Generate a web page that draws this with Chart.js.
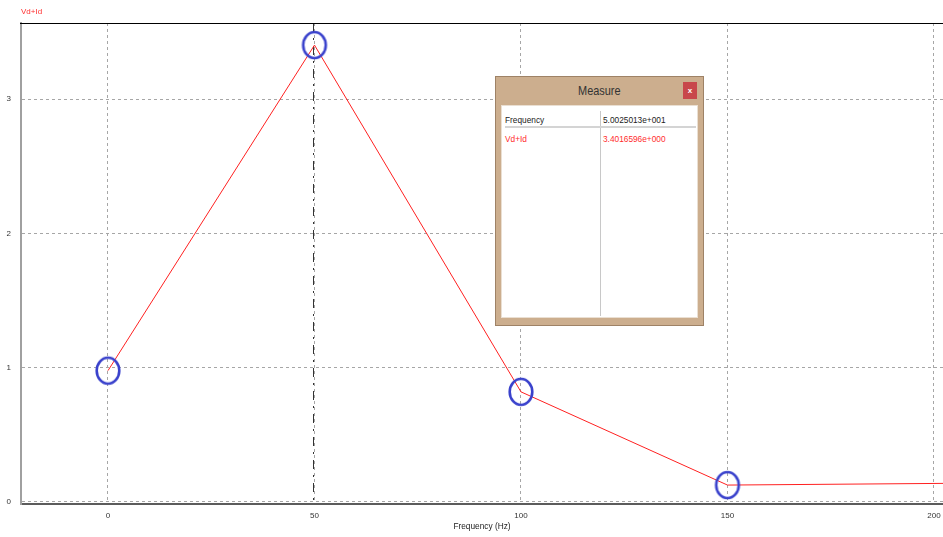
<!DOCTYPE html>
<html><head><meta charset="utf-8">
<script src="https://cdn.jsdelivr.net/npm/chart.js@4/dist/chart.umd.min.js"></script>
<style>
html,body{margin:0;padding:0;background:#fff;overflow:hidden}
#wrap{position:relative;width:943px;height:537px;font-family:"Liberation Sans",Arial,sans-serif}
canvas{display:block}
.abs{position:absolute;white-space:nowrap}
#mbox{left:495px;top:76px;width:209px;height:250px;box-sizing:border-box;background:#ccae8e;border:1px solid #9e8266}
#mtitle{left:495px;top:83px;width:209px;height:16px;line-height:16px;text-align:center;font-size:13px;color:#333}
#mtitle span{display:inline-block;transform:scaleX(0.84)}
#mclose{left:683px;top:82px;width:14px;height:17px;line-height:17px;text-align:center;background:#c8474b;color:#fff;font-size:8px;font-weight:bold}
#mpanel{left:501px;top:105px;width:197px;height:213px;box-sizing:border-box;background:#fff;border:1px solid #eadfd2}
#vsep{left:600px;top:111px;width:1px;height:205px;background:#c8c8c8}
#hsep{left:505px;top:126px;width:191px;height:2px;background:#d4d4d4}
.cell{font-size:8.3px;height:12px;line-height:12px}
</style></head><body>
<div id="wrap">
<canvas id="c" width="943" height="537"></canvas>
<div id="mbox" class="abs"></div>
<div id="mtitle" class="abs"><span>Measure</span></div>
<div id="mclose" class="abs">x</div>
<div id="mpanel" class="abs"></div>
<div id="vsep" class="abs"></div>
<div id="hsep" class="abs"></div>
<div id="r1n" class="abs cell" style="left:505px;top:114px;color:#222"></div>
<div id="r1v" class="abs cell" style="left:603px;top:114px;color:#222"></div>
<div id="r2n" class="abs cell" style="left:505px;top:133px;color:#ff2d2d"></div>
<div id="r2v" class="abs cell" style="left:603px;top:133px;color:#ff2d2d"></div>
</div>
<script>
const seriesName = "Vd+Id";
const xAxisTitle = "Frequency (Hz)";
const frequencies = [0, 50, 100, 150, 200, 250];
const vdId = [0.978, 3.402, 0.82, 0.126, 0.138, 0.15];
const markedFrequencies = [0, 50, 100, 150];
const markedValues = [0.978, 3.402, 0.82, 0.126];
const xTicks = [0, 50, 100, 150, 200];
const yTicks = [0, 1, 2, 3];
const cursorFrequency = 50.025013;
const cursorValue = 3.4016596;

function fmtExp(v){
  const s = v.toExponential(7);
  const parts = s.split('e');
  const e = parseInt(parts[1], 10);
  return parts[0] + 'e' + (e < 0 ? '-' : '+') + String(Math.abs(e)).padStart(3, '0');
}
document.getElementById('r1n').textContent = 'Frequency';
document.getElementById('r1v').textContent = fmtExp(cursorFrequency);
document.getElementById('r2n').textContent = seriesName;
document.getElementById('r2v').textContent = fmtExp(cursorValue);

function ring(){
  const c = document.createElement('canvas');
  c.width = 28; c.height = 32;
  const g = c.getContext('2d');
  g.strokeStyle = '#3a42cc'; g.lineWidth = 2.6;
  g.beginPath(); g.ellipse(14, 16, 11.3, 13, 0, 0, Math.PI*2); g.stroke();
  return c;
}
const ringImg = ring();

const fontTick = {family:'"Liberation Sans", Arial, sans-serif', size:8};

const decor = {
  id:'decor',
  beforeDatasetsDraw(chart){
    const {ctx, chartArea:a, scales} = chart;
    const x = Math.floor(scales.x.getPixelForValue(cursorFrequency)) - 0.5;
    ctx.save();
    ctx.strokeStyle = '#333'; ctx.lineWidth = 1;
    ctx.setLineDash([9,6,2,6]);
    ctx.beginPath(); ctx.moveTo(x, a.top); ctx.lineTo(x, a.bottom - 1); ctx.stroke();
    ctx.restore();
  },
  afterDraw(chart){
    const {ctx, chartArea:a} = chart;
    ctx.save();
    ctx.fillStyle = '#000';
    ctx.fillRect(a.left - 1, a.top, a.right - a.left + 1, 1);
    ctx.fillStyle = '#ff3030';
    ctx.font = '8px "Liberation Sans", Arial, sans-serif';
    ctx.textBaseline = 'middle';
    ctx.fillText(seriesName, 21, 12);
    ctx.restore();
  }
};

new Chart(document.getElementById('c'), {
  type:'line',
  data:{
    datasets:[
      {
        label:'marks',
        data: markedFrequencies.map((f,i)=>({x:f, y:markedValues[i]})),
        showLine:false,
        pointStyle: ringImg,
        pointRadius: 12,
        order: 0
      },
      {
        label: seriesName,
        data: frequencies.map((f,i)=>({x:f, y:vdId[i]})),
        borderColor:'#ff2020',
        borderWidth:1,
        pointRadius:0,
        tension:0,
        order: 1
      }
    ]
  },
  options:{
    responsive:false,
    animation:false,
    events:[],
    layout:{autoPadding:false, padding:{top:23,left:0,right:0,bottom:0}},
    plugins:{legend:{display:false}, tooltip:{enabled:false}, title:{display:false}},
    scales:{
      x:{
        type:'linear', min:-21.065, max:202.18,
        afterBuildTicks:s=>{ s.ticks = xTicks.map(v=>({value:v})); },
        afterFit:s=>{ s.height = 33; s.paddingLeft = 0; s.paddingRight = 0; s.paddingTop = 0; s.paddingBottom = 0; },
        grid:{color:'#a6a6a6', lineWidth:1, drawTicks:false, tickLength:0},
        border:{display:true, color:'#5c5c5c', width:2, dash:[3,3]},
        ticks:{padding:7, color:'#333', font:fontTick, maxRotation:0, autoSkip:false},
        title:{display:true, text:xAxisTitle, color:'#222', font:{family:'"Liberation Sans", Arial, sans-serif', size:8.3}, padding:{top:0,bottom:5}}
      },
      y:{
        type:'linear', min:-0.0149, max:3.5666,
        afterBuildTicks:s=>{ s.ticks = yTicks.map(v=>({value:v})); },
        afterFit:s=>{ s.width = 21; s.paddingLeft = 0; s.paddingRight = 0; s.paddingTop = 0; s.paddingBottom = 0; },
        grid:{color:'#a6a6a6', lineWidth:1, drawTicks:false, tickLength:0},
        border:{display:true, color:'#a0a0a0', width:2, dash:[3,3]},
        ticks:{padding:10, color:'#333', font:fontTick, autoSkip:false}
      }
    }
  },
  plugins:[decor]
});
</script>
</body></html>
